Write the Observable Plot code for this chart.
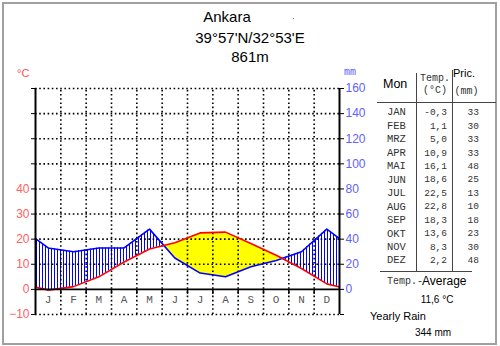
<!DOCTYPE html>
<html>
<head>
<meta charset="utf-8">
<script src="https://cdn.jsdelivr.net/npm/d3@7"></script>
<script src="https://cdn.jsdelivr.net/npm/@observablehq/plot@0.6"></script>
<style>
  body { margin: 0; background: #fff; }
  #wrap { position: relative; width: 500px; height: 346px; overflow: hidden; background: #fff; }
  #frame { position: absolute; left: 2px; top: 2px; width: 495px; height: 343px; border: 2px solid #a0a0a0; box-sizing: border-box; }
  #chart { position: absolute; left: 0; top: 0; }
  .t { position: absolute; white-space: nowrap; }
  .ln { position: absolute; background: #444; }
</style>
</head>
<body>
<div id="wrap">
  <div id="frame"></div>
  <div id="chart"></div>
</div>
<script>
// Climate data for Ankara (monthly means)
const monthInitials = ["J", "F", "M", "A", "M", "J", "J", "A", "S", "O", "N", "D"];
const monthNames = ["JAN", "FEB", "MRZ", "APR", "MAI", "JUN", "JUL", "AUG", "SEP", "OKT", "NOV", "DEZ"];
const temperature = [-0.3, 1.1, 5.0, 10.9, 16.1, 18.6, 22.5, 22.8, 18.3, 13.6, 8.3, 2.2];   // °C
const precipitation = [33, 30, 33, 33, 48, 25, 13, 10, 18, 23, 30, 48];                    // mm
const tempLevels = [-10, 0, 10, 20, 30, 40, 50, 60, 70, 80];
const tempTickLabels = [-10, 0, 10, 20, 30, 40];
const precipTickLabels = [0, 20, 40, 60, 80, 100, 120, 140, 160];
const station = "Ankara";
const coordinates = "39°57'N/32°53'E";
const elevation = "861m";
const annualMean = "11,6 °C";
const annualRain = "344 mm";

// Walter–Lieth convention: 10 °C on the temperature axis equals 20 mm of rain
const mmPerDegree = 2;

// Monthly points at month centres; the curves wrap around the year at both edges
const edgeT = (temperature[11] + temperature[0]) / 2;
const edgeP = (precipitation[11] + precipitation[0]) / 2 / mmPerDegree;
const base = [
  {x: 0, t: edgeT, p: edgeP},
  ...temperature.map((t, i) => ({x: i + 0.5, t, p: precipitation[i] / mmPerDegree})),
  {x: 12, t: edgeT, p: edgeP}
];

// Add the points where the two curves cross so the dry/humid fills meet cleanly
const pts = [];
for (let i = 0; i < base.length; i++) {
  const a = base[i], b = base[i + 1];
  pts.push(a);
  if (!b) break;
  const da = a.p - a.t, db = b.p - b.t;
  if (da * db < 0) {
    const f = da / (da - db);
    pts.push({x: a.x + f * (b.x - a.x), t: a.t + f * (b.t - a.t), p: a.p + f * (b.p - a.p)});
  }
}

const dotted = {stroke: "#000", strokeWidth: 1.6, strokeDasharray: "1.6,2.6"};
const fmtSigned = d => d < 0 ? "\u2212" + (-d) : String(d);

const plot = Plot.plot({
  width: 500,
  height: 346,
  marginLeft: 35,
  marginRight: 161,
  marginTop: 88,
  marginBottom: 32,
  style: {background: "transparent", fontFamily: "Liberation Sans", fontSize: "12px"},
  x: {domain: [0, 12], axis: null},
  y: {domain: [-10, 80]},
  marks: [
    // dry season (temperature above rain) and humid season (rain above temperature)
    Plot.areaY(pts, {x: "x", y1: "p", y2: d => Math.max(d.t, d.p), fill: "#ffff00"}),
    Plot.areaY(pts, {x: "x", y1: "t", y2: d => Math.max(d.t, d.p), fill: "url(#hatch)"}),
    // dotted grid
    Plot.ruleY(tempLevels.filter(d => d !== 0), dotted),
    Plot.ruleX(d3.range(1, 12), {y1: -10, y2: 80, ...dotted}),
    // month ticks on the zero line
    Plot.ruleX(d3.range(1, 12), {y1: 0, y2: -2, stroke: "#000", strokeWidth: 1.5}),
    // curves
    Plot.line(base, {x: "x", y: "p", stroke: "#0000ff", strokeWidth: 1.6}),
    Plot.line(base, {x: "x", y: "t", stroke: "#ff0000", strokeWidth: 1.6}),
    // axes lines
    Plot.ruleY([0], {stroke: "#000", strokeWidth: 1.6}),
    Plot.ruleX([0, 12], {y1: -10, y2: 80, stroke: "#000", strokeWidth: 2}),
    Plot.axisY(tempLevels, {
      anchor: "left", tickSize: 4, tickPadding: 2, stroke: "#000", fill: "#ff6060", fontSize: 12,
      tickFormat: d => tempTickLabels.includes(d) ? fmtSigned(d) : ""
    }),
    Plot.axisY([-10, ...precipTickLabels.map(v => v / mmPerDegree)], {
      anchor: "right", tickSize: 4, tickPadding: 2, stroke: "#000", fill: "#6060ff", fontSize: 12,
      tickFormat: d => d >= 0 ? String(d * mmPerDegree) : ""
    }),
    // month initials
    Plot.text(monthInitials, {
      x: (d, i) => i + 0.5, frameAnchor: "bottom", dy: -12,
      fontFamily: "Liberation Mono", fontSize: 11, fill: "#555"
    })
  ]
});

// vertical hatching used for the humid months
d3.select(plot).insert("defs", ":first-child")
  .append("pattern")
  .attr("id", "hatch")
  .attr("patternUnits", "userSpaceOnUse")
  .attr("width", 3).attr("height", 12)
  .append("rect")
  .attr("x", 0).attr("y", 0).attr("width", 1).attr("height", 12)
  .attr("fill", "#0000ff");

document.getElementById("chart").appendChild(plot);

// ---- text and table around the diagram ----
const wrap = document.getElementById("wrap");
const BASELINE = {"Liberation Sans": 0.8465, "Liberation Mono": 0.7665};
function label(str, x, baseline, opts = {}) {
  const {font = "Liberation Sans", size = 12, color = "#000", anchor = "start", weight = "normal"} = opts;
  const el = document.createElement("div");
  el.className = "t";
  el.textContent = str;
  el.style.fontFamily = font;
  el.style.fontSize = size + "px";
  el.style.lineHeight = size + "px";
  el.style.fontWeight = weight;
  el.style.color = color;
  el.style.left = x + "px";
  el.style.top = (baseline - BASELINE[font] * size) + "px";
  if (anchor === "middle") el.style.transform = "translateX(-50%)";
  if (anchor === "end") el.style.transform = "translateX(-100%)";
  wrap.appendChild(el);
  return el;
}
function line(x, y, w, h, color = "#444") {
  const el = document.createElement("div");
  el.className = "ln";
  Object.assign(el.style, {left: x + "px", top: y + "px", width: w + "px", height: h + "px", background: color});
  wrap.appendChild(el);
}

// title block
label(station, 227, 22, {size: 15, anchor: "middle"});
label(coordinates, 250, 43, {size: 15, anchor: "middle"});
label(elevation, 250, 62, {size: 15, anchor: "middle"});
line(293, 18, 1, 1, "#888");

// unit labels of the two axes
label("°C", 17, 77, {size: 11, color: "#ff5050"});
label("mm", 344, 76, {font: "Liberation Mono", size: 10, color: "#6060ff"});

// table header
label("Mon", 383, 89, {size: 12.5});
label("Temp.", 435, 82, {font: "Liberation Mono", size: 10, anchor: "middle", color: "#333"});
label("(°C)", 435, 94, {font: "Liberation Mono", size: 10, anchor: "middle", color: "#333"});
label("Pric.", 453, 77, {size: 11});
label("(mm)", 466.5, 95, {font: "Liberation Mono", size: 10, anchor: "middle", color: "#333"});
line(377, 102, 119, 1);
line(416, 73, 1, 198);
line(452, 70, 1, 201);

// table rows
const rowStep = 13.45;
monthNames.forEach((m, i) => {
  const y = 115.5 + i * rowStep;
  label(m, 387, y, {font: "Liberation Mono", size: 10.5, color: "#333"});
  label(temperature[i].toFixed(1).replace(".", ","), 447, y, {font: "Liberation Mono", size: 9.5, anchor: "end", color: "#333"});
  label(String(precipitation[i]), 479, y, {font: "Liberation Mono", size: 9.5, anchor: "end", color: "#333"});
});
line(380, 271, 92, 1);

// yearly summary
label("Temp.-", 387, 285, {font: "Liberation Mono", size: 10, color: "#333"});
label("Average", 422, 285, {size: 12});
label(annualMean, 437, 303, {size: 10, anchor: "middle"});
label("Yearly Rain", 370, 320, {size: 11});
label(annualRain, 415, 336, {size: 10});
</script>
</body>
</html>
